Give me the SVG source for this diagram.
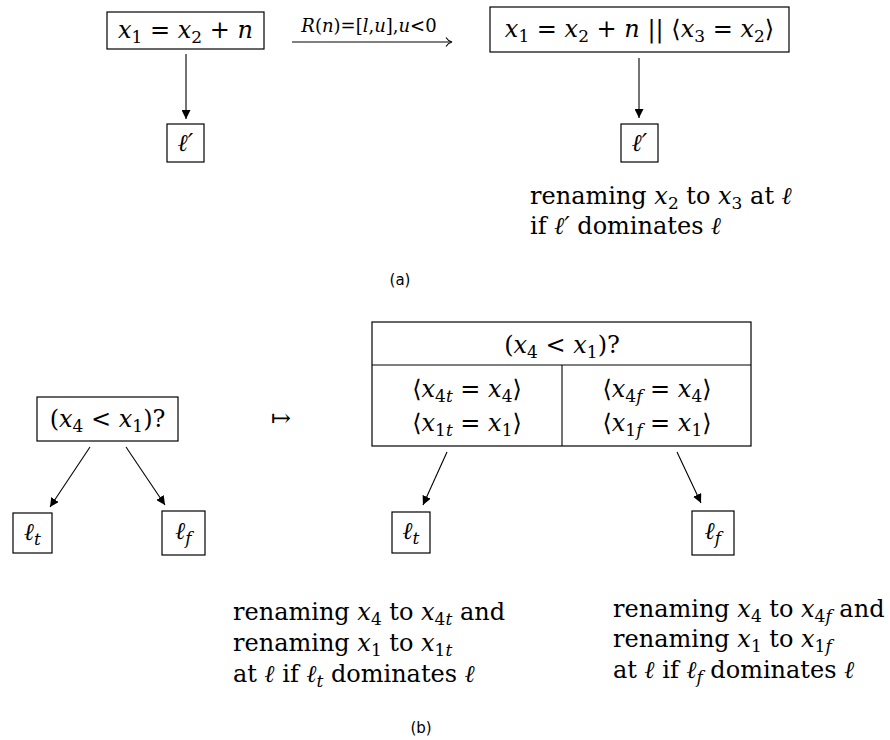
<svg xmlns="http://www.w3.org/2000/svg" width="890" height="740" viewBox="0 0 890 740">
<style>
.t{font-family:"DejaVu Serif","Liberation Serif",serif;font-size:24px;fill:#000}
.i{font-style:italic}
.sb{font-size:17px}
.sm{font-size:18px}
.cap{font-family:"DejaVu Sans","Open Sans",sans-serif;font-size:15px;fill:#000}
.box{fill:#fff;stroke:#000;stroke-width:1.2}
.ln{stroke:#000;stroke-width:1.1;fill:none}
</style>
<defs>
<marker id="ah" viewBox="0 0 10 10" refX="10" refY="5" markerWidth="9" markerHeight="9" markerUnits="userSpaceOnUse" orient="auto">
<path d="M0,0 L10,5 L0,10 Z" fill="#000"/>
</marker>
</defs>

<!-- (a) -->
<g id="a_src">
<rect class="box" x="107" y="12" width="157" height="37"/>
<text class="t" x="185.5" y="38" text-anchor="middle"><tspan class="i">x</tspan><tspan class="sb" dy="5">1</tspan><tspan dy="-5"> = </tspan><tspan class="i">x</tspan><tspan class="sb" dy="5">2</tspan><tspan dy="-5"> + </tspan><tspan class="i">n</tspan></text>
</g>
<g id="a_lp1">
<rect class="box" x="167" y="124" width="37" height="38"/>
<text class="t i" x="185.5" y="151" text-anchor="middle">ℓ′</text>
</g>
<g id="a_dst">
<rect class="box" x="490" y="7" width="299" height="45"/>
<text class="t" x="639.5" y="37" text-anchor="middle"><tspan class="i">x</tspan><tspan class="sb" dy="5">1</tspan><tspan dy="-5"> = </tspan><tspan class="i">x</tspan><tspan class="sb" dy="5">2</tspan><tspan dy="-5"> + </tspan><tspan class="i">n</tspan><tspan> || ⟨</tspan><tspan class="i">x</tspan><tspan class="sb" dy="5">3</tspan><tspan dy="-5"> = </tspan><tspan class="i">x</tspan><tspan class="sb" dy="5">2</tspan><tspan dy="-5">⟩</tspan></text>
</g>
<g id="a_lp2">
<rect class="box" x="621" y="124" width="37" height="38"/>
<text class="t i" x="639.5" y="151" text-anchor="middle">ℓ′</text>
</g>
<g id="a_note">
<text class="t" x="530" y="204">renaming <tspan class="i">x</tspan><tspan class="sb" dy="5">2</tspan><tspan dy="-5"> to </tspan><tspan class="i">x</tspan><tspan class="sb" dy="5">3</tspan><tspan dy="-5"> at </tspan><tspan class="i">ℓ</tspan></text>
<text class="t" x="530" y="234">if <tspan class="i">ℓ′</tspan> dominates <tspan class="i">ℓ</tspan></text>
</g>
<g id="a_rule">
<text class="t sm" x="369" y="32" text-anchor="middle"><tspan class="i">R</tspan>(<tspan class="i">n</tspan>)=[<tspan class="i">l</tspan>,<tspan class="i">u</tspan>],<tspan class="i">u</tspan>&lt;0</text>
<line class="ln" x1="292" y1="42" x2="451" y2="42"/>
<path class="ln" d="M446,37.5 Q448,41 452,42 Q448,43 446,46.5"/>
</g>
<text class="cap" x="400" y="285" text-anchor="middle">(a)</text>

<!-- (b) -->
<g id="b_src">
<rect class="box" x="37" y="397" width="141" height="44"/>
<text class="t" x="107.5" y="427" text-anchor="middle">(<tspan class="i">x</tspan><tspan class="sb" dy="5">4</tspan><tspan dy="-5"> &lt; </tspan><tspan class="i">x</tspan><tspan class="sb" dy="5">1</tspan><tspan dy="-5">)?</tspan></text>
</g>
<g id="b_lt1">
<rect class="box" x="13" y="513" width="39" height="40"/>
<text class="t" x="32.5" y="540" text-anchor="middle"><tspan class="i">ℓ</tspan><tspan class="sb i" dy="5">t</tspan></text>
</g>
<g id="b_lf1">
<rect class="box" x="162" y="511" width="43" height="44"/>
<text class="t" x="183.5" y="539" text-anchor="middle"><tspan class="i">ℓ</tspan><tspan class="sb i" dy="5">f</tspan></text>
</g>
<text class="t" x="281" y="426" text-anchor="middle">↦</text>
<g id="b_table">
<rect class="box" x="372" y="322" width="379" height="124"/>
<line class="ln" x1="372" y1="365" x2="751" y2="365"/>
<line class="ln" x1="562" y1="365" x2="562" y2="446"/>
<text class="t" x="562" y="353" text-anchor="middle">(<tspan class="i">x</tspan><tspan class="sb" dy="5">4</tspan><tspan dy="-5"> &lt; </tspan><tspan class="i">x</tspan><tspan class="sb" dy="5">1</tspan><tspan dy="-5">)?</tspan></text>
<text class="t" x="467" y="397" text-anchor="middle">⟨<tspan class="i">x</tspan><tspan class="sb" dy="5">4<tspan class="i">t</tspan></tspan><tspan dy="-5"> = </tspan><tspan class="i">x</tspan><tspan class="sb" dy="5">4</tspan><tspan dy="-5">⟩</tspan></text>
<text class="t" x="467" y="431" text-anchor="middle">⟨<tspan class="i">x</tspan><tspan class="sb" dy="5">1<tspan class="i">t</tspan></tspan><tspan dy="-5"> = </tspan><tspan class="i">x</tspan><tspan class="sb" dy="5">1</tspan><tspan dy="-5">⟩</tspan></text>
<text class="t" x="657" y="397" text-anchor="middle">⟨<tspan class="i">x</tspan><tspan class="sb" dy="5">4<tspan class="i">f</tspan></tspan><tspan dy="-5"> = </tspan><tspan class="i">x</tspan><tspan class="sb" dy="5">4</tspan><tspan dy="-5">⟩</tspan></text>
<text class="t" x="657" y="431" text-anchor="middle">⟨<tspan class="i">x</tspan><tspan class="sb" dy="5">1<tspan class="i">f</tspan></tspan><tspan dy="-5"> = </tspan><tspan class="i">x</tspan><tspan class="sb" dy="5">1</tspan><tspan dy="-5">⟩</tspan></text>
</g>
<g id="b_lt2">
<rect class="box" x="392" y="512" width="38" height="41"/>
<text class="t" x="411" y="539" text-anchor="middle"><tspan class="i">ℓ</tspan><tspan class="sb i" dy="5">t</tspan></text>
</g>
<g id="b_lf2">
<rect class="box" x="692" y="511" width="42" height="44"/>
<text class="t" x="713" y="539" text-anchor="middle"><tspan class="i">ℓ</tspan><tspan class="sb i" dy="5">f</tspan></text>
</g>
<g id="b_note_t">
<text class="t" x="233" y="620">renaming <tspan class="i">x</tspan><tspan class="sb" dy="5">4</tspan><tspan dy="-5"> to </tspan><tspan class="i">x</tspan><tspan class="sb" dy="5">4<tspan class="i">t</tspan></tspan><tspan dy="-5"> and</tspan></text>
<text class="t" x="233" y="651">renaming <tspan class="i">x</tspan><tspan class="sb" dy="5">1</tspan><tspan dy="-5"> to </tspan><tspan class="i">x</tspan><tspan class="sb" dy="5">1<tspan class="i">t</tspan></tspan></text>
<text class="t" x="233" y="682">at <tspan class="i">ℓ</tspan> if <tspan class="i">ℓ</tspan><tspan class="sb i" dy="5">t</tspan><tspan dy="-5"> dominates </tspan><tspan class="i">ℓ</tspan></text>
</g>
<g id="b_note_f">
<text class="t" x="613" y="617">renaming <tspan class="i">x</tspan><tspan class="sb" dy="5">4</tspan><tspan dy="-5"> to </tspan><tspan class="i">x</tspan><tspan class="sb" dy="5">4<tspan class="i">f</tspan></tspan><tspan dy="-5"> and</tspan></text>
<text class="t" x="613" y="647">renaming <tspan class="i">x</tspan><tspan class="sb" dy="5">1</tspan><tspan dy="-5"> to </tspan><tspan class="i">x</tspan><tspan class="sb" dy="5">1<tspan class="i">f</tspan></tspan></text>
<text class="t" x="613" y="678">at <tspan class="i">ℓ</tspan> if <tspan class="i">ℓ</tspan><tspan class="sb i" dy="5">f</tspan><tspan dy="-5"> dominates </tspan><tspan class="i">ℓ</tspan></text>
</g>
<text class="cap" x="421" y="733" text-anchor="middle">(b)</text>

<g id="connectors">
<line class="ln" x1="186" y1="54" x2="186" y2="119" marker-end="url(#ah)"/>
<line class="ln" x1="639" y1="58" x2="639" y2="118" marker-end="url(#ah)"/>
<line class="ln" x1="90" y1="447" x2="50" y2="507" marker-end="url(#ah)"/>
<line class="ln" x1="126" y1="447" x2="165" y2="505" marker-end="url(#ah)"/>
<line class="ln" x1="447" y1="452" x2="423" y2="505" marker-end="url(#ah)"/>
<line class="ln" x1="677" y1="452" x2="701" y2="503" marker-end="url(#ah)"/>
</g>
</svg>
